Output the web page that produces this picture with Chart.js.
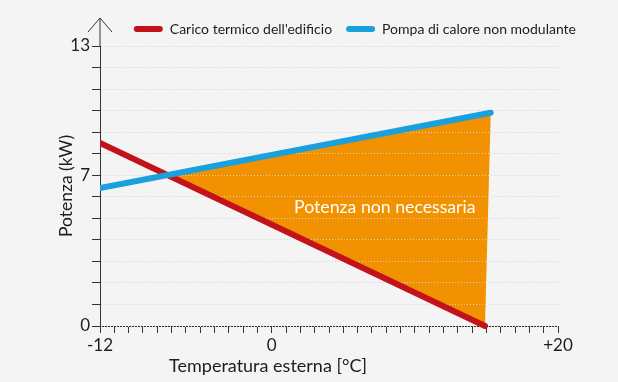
<!DOCTYPE html>
<html>
<head>
<meta charset="utf-8">
<script src="https://cdn.jsdelivr.net/npm/chart.js@4.4.1/dist/chart.umd.min.js"></script>
<style>
  html, body { margin: 0; padding: 0; background: #f4f4f4; }
  #wrap { width: 618px; height: 382px; }
</style>
</head>
<body>
<div id="wrap"><canvas id="chart"></canvas></div>
<script>
// valori
const seriesNames = ["Carico termico dell'edificio", 'Pompa di calore non modulante'];
const loadTemp = [-12, 14.9];
const loadPower = [8.5, 0];
const pumpTemp = [-12, 15.3];
const pumpPower = [6.4, 9.9];
// area "potenza non necessaria": incrocio, fine pompa, fine carico
const surplusTemp = [-7.4, 15.3, 14.9];
const surplusPower = [7.0, 9.9, 0];
const xTickValues = [-12, 0, 20];
const xTickLabels = ['-12', '0', '+20'];
const yTickValues = [0, 7, 13];
const yTickLabels = ['0', '7', '13'];
const noteText = 'Potenza non necessaria';
const noteTemp = 7.9;
const notePower = 5.5;

const ink = '#1d1d1b';
const axisInk = '#333333';
const red = '#c4121a';
const blue = '#1aa0dc';
const orange = '#f39200';

Chart.defaults.font.family = 'Lato';
Chart.defaults.color = ink;

function pts(xs, ys) {
    return xs.map((x, i) => ({ x: x, y: ys[i] }));
}

const lineClip = { left: 0, top: 10, right: 10, bottom: 3 };

// disegna la griglia sopra l'area arancione, la freccia dell'asse y e i testi
const extras = {
    id: 'extras',
    afterDatasetDraw(chart, args) {
        if (args.index === 2) {
            chart.scales.y.drawGrid(chart.chartArea);
        }
    },
    afterDraw(chart) {
        const ctx = chart.ctx;
        const area = chart.chartArea;
        const x = chart.scales.x;
        const y = chart.scales.y;
        ctx.save();
        // freccia
        ctx.strokeStyle = axisInk;
        ctx.lineWidth = 1;
        ctx.beginPath();
        ctx.moveTo(area.left, area.top);
        ctx.lineTo(area.left, area.top - 28);
        ctx.moveTo(area.left - 12, area.top - 14);
        ctx.lineTo(area.left, area.top - 28);
        ctx.lineTo(area.left + 12, area.top - 14);
        ctx.stroke();
        // nota
        ctx.fillStyle = '#ffffff';
        ctx.font = '17.7px Lato';
        ctx.textAlign = 'center';
        ctx.textBaseline = 'middle';
        ctx.fillText(noteText, x.getPixelForValue(noteTemp), y.getPixelForValue(notePower));
        // titolo asse x
        ctx.fillStyle = ink;
        ctx.font = '18px Lato';
        ctx.fillText('Temperatura esterna [°C]', area.left + 168, area.bottom + 40);
        ctx.restore();
    }
};

new Chart(document.getElementById('chart'), {
    type: 'line',
    data: {
        datasets: [{
            label: seriesNames[0],
            data: pts(loadTemp, loadPower),
            borderColor: red,
            backgroundColor: red,
            borderWidth: 6,
            borderCapStyle: 'round',
            pointRadius: 0,
            fill: false,
            clip: lineClip,
            order: 1
        }, {
            label: seriesNames[1],
            data: pts(pumpTemp, pumpPower),
            borderColor: blue,
            backgroundColor: blue,
            borderWidth: 6,
            borderCapStyle: 'round',
            pointRadius: 0,
            fill: false,
            clip: lineClip,
            order: 0
        }, {
            label: noteText,
            data: pts(surplusTemp, surplusPower),
            borderColor: 'rgba(0,0,0,0)',
            backgroundColor: orange,
            borderWidth: 0,
            pointRadius: 0,
            fill: 'shape',
            order: 2
        }]
    },
    options: {
        responsive: true,
        maintainAspectRatio: false,
        animation: false,
        events: [],
        layout: { padding: { left: 0, right: 28, top: 4, bottom: 0 } },
        plugins: {
            tooltip: { enabled: false },
            legend: {
                position: 'top',
                align: 'end',
                labels: {
                    font: { size: 14 },
                    color: ink,
                    boxWidth: 29,
                    boxHeight: 6,
                    padding: 14,
                    filter: item => item.datasetIndex !== 2,
                    sort: (a, b) => a.datasetIndex - b.datasetIndex,
                    generateLabels: chart => Chart.defaults.plugins.legend.labels.generateLabels(chart)
                        .map(item => Object.assign(item, { lineWidth: 0, fillStyle: item.strokeStyle, borderRadius: 3 }))
                }
            }
        },
        scales: {
            x: {
                type: 'linear',
                min: -12,
                max: 20,
                afterFit: s => { s.height = 56; s.paddingRight = 60; },
                ticks: {
                    stepSize: 1,
                    autoSkip: false,
                    maxRotation: 0,
                    padding: 2,
                    font: { size: 17 },
                    color: ink,
                    callback: v => { const i = xTickValues.indexOf(v); return i >= 0 ? xTickLabels[i] : ''; }
                },
                grid: {
                    drawOnChartArea: false,
                    drawTicks: true,
                    tickLength: 7,
                    tickColor: axisInk,
                    tickWidth: 1,
                    tickBorderDash: []
                },
                border: { display: true, color: axisInk, width: 1 }
            },
            y: {
                type: 'linear',
                min: 0,
                max: 13,
                afterFit: s => { s.width = 100; s.paddingTop = 46; },
                title: {
                    display: true,
                    text: 'Potenza (kW)',
                    font: { size: 17.5 },
                    color: ink,
                    padding: { top: 56, bottom: 0 }
                },
                ticks: {
                    stepSize: 1,
                    autoSkip: false,
                    padding: 2,
                    font: { size: 17 },
                    color: ink,
                    callback: v => { const i = yTickValues.indexOf(v); return i >= 0 ? yTickLabels[i] : ''; }
                },
                grid: {
                    color: '#d2d2d2',
                    lineWidth: 1,
                    drawTicks: true,
                    tickLength: 8,
                    tickColor: axisInk,
                    tickWidth: 1,
                    tickBorderDash: []
                },
                border: { display: true, color: axisInk, width: 1, dash: [1, 2] }
            }
        }
    },
    plugins: [extras]
});
</script>
</body>
</html>
